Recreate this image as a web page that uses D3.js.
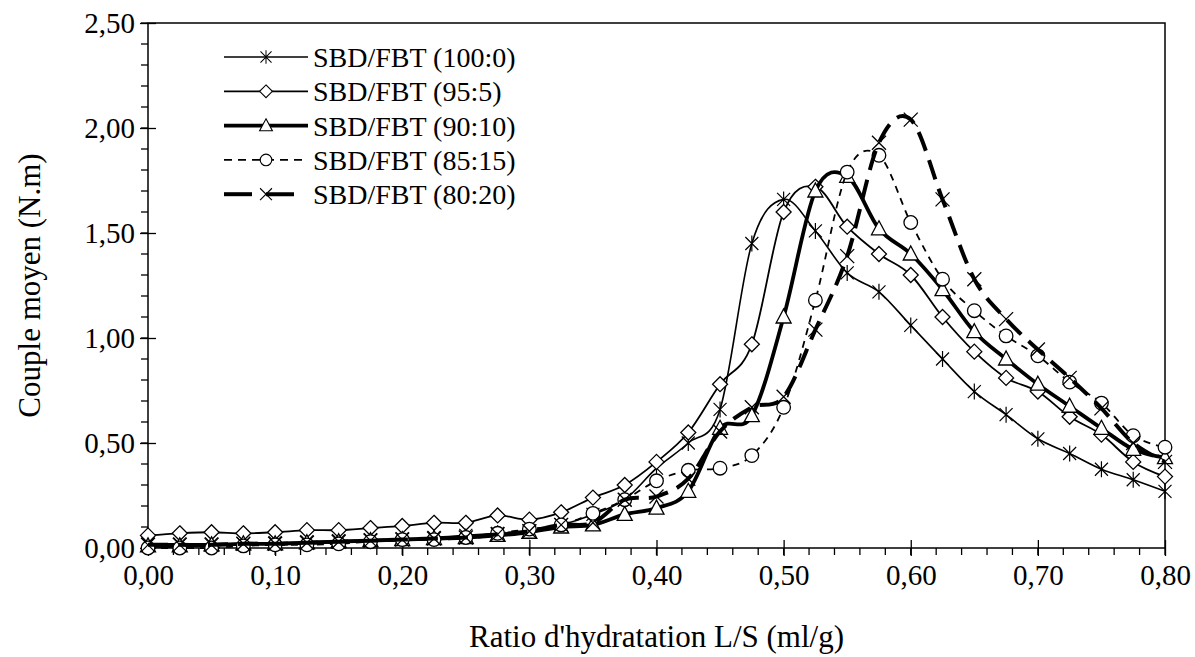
<!DOCTYPE html>
<html>
<head>
<meta charset="utf-8">
<script src="https://cdn.jsdelivr.net/npm/d3@7"></script>
<style>
  body { margin: 0; background: #fff; }
  svg { display: block; }
  text { font-family: "Liberation Serif", "Times New Roman", serif; fill: #000; }
</style>
</head>
<body>
<div id="chart"></div>
<script>
// L/S ratio (ml/g)
const ratios = [0.000, 0.025, 0.050, 0.075, 0.100, 0.125, 0.150, 0.175, 0.200, 0.225, 0.250,
  0.275, 0.300, 0.325, 0.350, 0.375, 0.400, 0.425, 0.450, 0.475, 0.500, 0.525, 0.550,
  0.575, 0.600, 0.625, 0.650, 0.675, 0.700, 0.725, 0.750, 0.775, 0.800];

// couple moyen (N.m) per mix
const sbd100 = [0.02, 0.02, 0.02, 0.02, 0.025, 0.03, 0.035, 0.04, 0.045, 0.05, 0.06,
  0.07, 0.08, 0.11, 0.16, 0.23, 0.38, 0.50, 0.66, 1.45, 1.66, 1.51, 1.31,
  1.22, 1.06, 0.90, 0.745, 0.635, 0.52, 0.45, 0.375, 0.325, 0.27];
const sbd95 = [0.06, 0.07, 0.075, 0.07, 0.075, 0.085, 0.085, 0.095, 0.105, 0.12, 0.12,
  0.155, 0.135, 0.17, 0.24, 0.30, 0.41, 0.55, 0.78, 0.97, 1.60, 1.72, 1.53,
  1.40, 1.30, 1.10, 0.935, 0.81, 0.745, 0.625, 0.54, 0.41, 0.34];
const sbd90 = [0.01, 0.01, 0.015, 0.02, 0.02, 0.025, 0.03, 0.035, 0.04, 0.045, 0.05,
  0.06, 0.075, 0.10, 0.11, 0.16, 0.19, 0.27, 0.57, 0.63, 1.10, 1.70, 1.77,
  1.52, 1.40, 1.23, 1.03, 0.90, 0.78, 0.675, 0.57, 0.47, 0.43];
const sbd85 = [0.00, 0.00, 0.00, 0.01, 0.015, 0.015, 0.02, 0.03, 0.04, 0.04, 0.05,
  0.07, 0.09, 0.11, 0.165, 0.23, 0.32, 0.37, 0.38, 0.44, 0.67, 1.18, 1.79,
  1.87, 1.55, 1.28, 1.13, 1.01, 0.915, 0.79, 0.69, 0.535, 0.48];
const sbd80 = [0.015, 0.015, 0.015, 0.02, 0.02, 0.025, 0.03, 0.035, 0.04, 0.045, 0.05,
  0.065, 0.08, 0.11, 0.12, 0.23, 0.245, 0.33, 0.555, 0.67, 0.72, 1.04, 1.39,
  1.93, 2.04, 1.66, 1.28, 1.09, 0.945, 0.81, 0.665, 0.50, 0.41];

const seriesNames = ["SBD/FBT (100:0)", "SBD/FBT (95:5)", "SBD/FBT (90:10)", "SBD/FBT (85:15)", "SBD/FBT (80:20)"];
const xTicks = [0, 0.1, 0.2, 0.3, 0.4, 0.5, 0.6, 0.7, 0.8];
const yTicks = [0, 0.5, 1, 1.5, 2, 2.5];

const fmt = d => d.toFixed(2).replace(".", ",");

window.addEventListener("DOMContentLoaded", () => {
  const width = 1195, height = 657;
  const margin = { top: 23, right: 30, bottom: 109, left: 148 };
  const innerW = width - margin.left - margin.right;
  const innerH = height - margin.top - margin.bottom;

  const svg = d3.select("#chart").append("svg")
    .attr("width", width).attr("height", height);

  const g = svg.append("g")
    .attr("transform", `translate(${margin.left},${margin.top})`);

  const x = d3.scaleLinear().domain([0, 0.8]).range([0, innerW]);
  const y = d3.scaleLinear().domain([0, 2.5]).range([innerH, 0]);

  // marker shapes
  const markers = {
    star: sel => sel.append("path").attr("d", "M-6.5,-6.5L6.5,6.5M-6.5,6.5L6.5,-6.5M0,-8L0,8")
      .attr("fill", "none").attr("stroke", "#000").attr("stroke-width", 1.2),
    diamond: sel => sel.append("path").attr("d", "M0,-7.5L7.5,0L0,7.5L-7.5,0Z")
      .attr("fill", "#fff").attr("stroke", "#000").attr("stroke-width", 1.3),
    triangle: sel => sel.append("path").attr("d", "M0,-8L7.5,6L-7.5,6Z")
      .attr("fill", "#fff").attr("stroke", "#000").attr("stroke-width", 1.3),
    circle: sel => sel.append("circle").attr("r", 6.8)
      .attr("fill", "#fff").attr("stroke", "#000").attr("stroke-width", 1.3),
    cross: sel => sel.append("path").attr("d", "M-7,-7L7,7M-7,7L7,-7")
      .attr("fill", "none").attr("stroke", "#000").attr("stroke-width", 1.3)
  };

  const series = [
    { name: seriesNames[0], values: sbd100, lw: 1.6, dash: null, marker: "star" },
    { name: seriesNames[1], values: sbd95, lw: 1.8, dash: null, marker: "diamond" },
    { name: seriesNames[2], values: sbd90, lw: 3.8, dash: null, marker: "triangle" },
    { name: seriesNames[3], values: sbd85, lw: 1.8, dash: "7,6", marker: "circle" },
    { name: seriesNames[4], values: sbd80, lw: 4, dash: "20,10", marker: "cross" }
  ];

  // axes box
  g.append("rect")
    .attr("width", innerW).attr("height", innerH)
    .attr("fill", "none").attr("stroke", "#000").attr("stroke-width", 1.5);

  // y axis: minor outside, major crossing
  const yMinor = d3.range(0, 2.5001, 0.1);
  g.append("g").selectAll("line").data(yMinor).join("line")
    .attr("x1", -7).attr("x2", 0)
    .attr("y1", d => y(d)).attr("y2", d => y(d))
    .attr("stroke", "#000").attr("stroke-width", 1.3);
  const axY = g.append("g")
    .call(d3.axisLeft(y).tickValues(yTicks).tickFormat(fmt).tickSize(8).tickPadding(5));
  axY.select(".domain").remove();
  axY.selectAll(".tick line").attr("x2", 8).attr("x1", -8).attr("stroke-width", 1.3);
  axY.selectAll("text").style("font-size", "29px").style("font-family", "Liberation Serif");

  // x axis
  const xMinor = d3.range(0, 0.8001, 0.02);
  g.append("g").selectAll("line").data(xMinor).join("line")
    .attr("x1", d => x(d)).attr("x2", d => x(d))
    .attr("y1", innerH).attr("y2", innerH + 7)
    .attr("stroke", "#000").attr("stroke-width", 1.3);
  const axX = g.append("g")
    .attr("transform", `translate(0,${innerH})`)
    .call(d3.axisBottom(x).tickValues(xTicks).tickFormat(fmt).tickSize(8).tickPadding(8));
  axX.select(".domain").remove();
  axX.selectAll(".tick line").attr("y1", -8).attr("y2", 8).attr("stroke-width", 1.3);
  axX.selectAll("text").style("font-size", "29px").style("font-family", "Liberation Serif");

  // axis titles
  svg.append("text")
    .attr("x", margin.left + innerW / 2).attr("y", 647)
    .attr("text-anchor", "middle").style("font-size", "31px")
    .text("Ratio d'hydratation L/S (ml/g)");
  svg.append("text")
    .attr("transform", `translate(40,${margin.top + innerH / 2}) rotate(-90)`)
    .attr("text-anchor", "middle").style("font-size", "31px")
    .text("Couple moyen (N.m)");

  // series
  const line = d3.line()
    .x((d, i) => x(ratios[i]))
    .y(d => y(d))
    .curve(d3.curveCardinal.tension(0));

  series.forEach(s => {
    const sg = g.append("g");
    sg.append("path")
      .attr("d", line(s.values))
      .attr("fill", "none").attr("stroke", "#000")
      .attr("stroke-width", s.lw)
      .attr("stroke-dasharray", s.dash);
    sg.selectAll("g.m").data(s.values).join("g")
      .attr("class", "m")
      .attr("transform", (d, i) => `translate(${x(ratios[i])},${y(d)})`)
      .each(function () { markers[s.marker](d3.select(this)); });
  });

  // legend
  const leg = svg.append("g").attr("transform", "translate(224,57)");
  series.forEach((s, i) => {
    const row = leg.append("g").attr("transform", `translate(0,${i * 34.3})`);
    row.append("line")
      .attr("x1", 0).attr("x2", 84).attr("y1", 0).attr("y2", 0)
      .attr("stroke", "#000").attr("stroke-width", s.lw)
      .attr("stroke-dasharray", s.dash ? (s.marker === "circle" ? "8,6" : "28,14") : null);
    const m = row.append("g").attr("transform", "translate(42,0) scale(0.85)");
    markers[s.marker](m);
    row.append("text")
      .attr("x", 89).attr("y", 10)
      .style("font-size", "28px")
      .text(s.name);
  });
});
</script>
</body>
</html>
